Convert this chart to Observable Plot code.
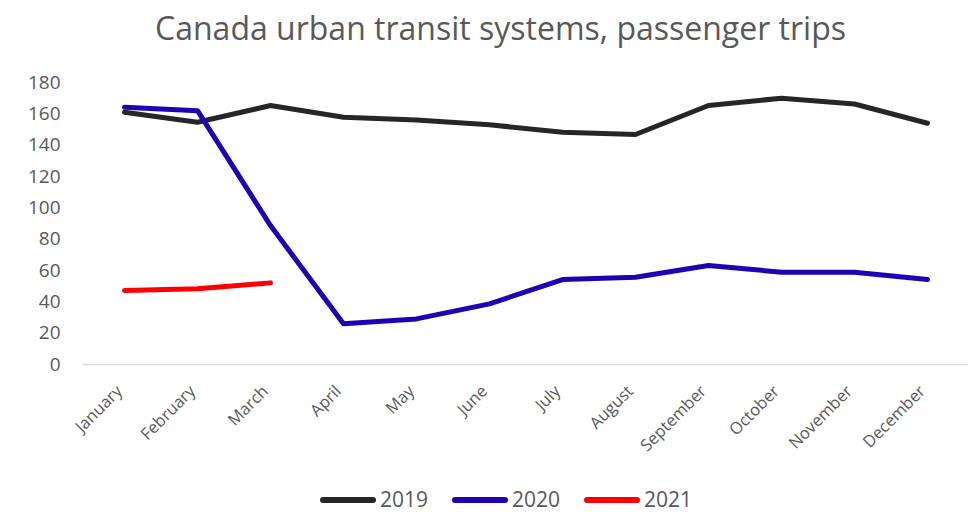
<!DOCTYPE html>
<html>
<head>
<meta charset="utf-8">
<script src="https://cdn.jsdelivr.net/npm/d3@7"></script>
<script src="https://cdn.jsdelivr.net/npm/@observablehq/plot@0.6"></script>
<style>
  html, body { margin: 0; padding: 0; background: #fff; }
  body { width: 973px; height: 513px; overflow: hidden; font-family: "Open Sans", sans-serif; color: #595959; }
  #title { height: 60px; line-height: 56px; text-align: center; font-size: 32px; font-weight: 400; color: #595959; padding-left: 28px; }
  #chart svg { display: block; }
  #legend { box-sizing: border-box; display: flex; justify-content: center; align-items: center; gap: 24px; height: 39px; padding-top: 12px; line-height: 21px; font-size: 21px; color: #595959; padding-left: 39px; }
  .item { display: flex; align-items: center; height: 21px; }
  .sw { width: 56px; height: 6px; border-radius: 3px; margin-right: 4px; }
</style>
</head>
<body>
<div id="title">Canada urban transit systems, passenger trips</div>
<div id="chart"></div>
<div id="legend"></div>
<script>
const months = ["January","February","March","April","May","June","July","August","September","October","November","December"];
const series = ["2019","2020","2021"];
const colors = ["#262626","#1f00b4","#ff0000"];
const v2019 = [161, 154.6, 165.3, 157.8, 156.1, 153, 148.3, 146.8, 165.3, 170, 166.3, 154];
const v2020 = [164.2, 162, 88.7, 26, 29.1, 38.7, 54.2, 55.7, 63.2, 58.9, 58.9, 54.2];
const v2021 = [47.2, 48.3, 52.1];
const yTicks = [0, 20, 40, 60, 80, 100, 120, 140, 160, 180];

const values = [v2019, v2020, v2021];
const data = [];
series.forEach((s, i) => values[i].forEach((v, j) => data.push({month: months[j], year: s, value: v})));

const chart = Plot.plot({
  width: 973,
  height: 414,
  marginTop: 22,
  marginBottom: 110,
  marginLeft: 83,
  marginRight: 5,
  style: {fontFamily: "'Open Sans', sans-serif", color: "#595959", background: "#fff"},
  x: {type: "point", domain: months, padding: 0.5, label: null},
  y: {domain: [0, 180], label: null},
  color: {domain: series, range: colors},
  marks: [
    Plot.ruleY([0], {stroke: "#d9d9d9", strokeWidth: 1.5}),
    Plot.axisY({ticks: yTicks, tickSize: 0, tickPadding: 23, fontSize: 19, fill: "#595959", label: null}),
    Plot.axisX({tickSize: 0, tickPadding: 24, tickRotate: -45, fontSize: 16.5, fill: "#595959", label: null, dx: -5}),
    Plot.line(data, {x: "month", y: "value", z: "year", stroke: "year", strokeWidth: 5, strokeLinecap: "round", strokeLinejoin: "round"})
  ]
});
document.getElementById("chart").appendChild(chart);

const legend = document.getElementById("legend");
series.forEach((s, i) => {
  const it = document.createElement("div");
  it.className = "item";
  const sw = document.createElement("div");
  sw.className = "sw";
  sw.style.background = colors[i];
  const t = document.createElement("span");
  t.textContent = s;
  it.appendChild(sw); it.appendChild(t);
  legend.appendChild(it);
});
</script>
</body>
</html>
